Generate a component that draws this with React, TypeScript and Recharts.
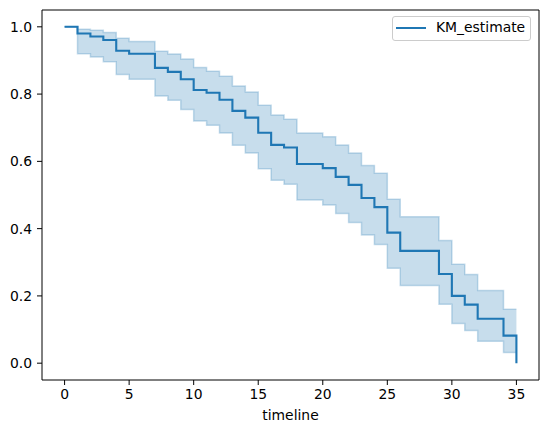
import React from 'react';
import {
  ComposedChart,
  Area,
  Line,
  XAxis,
  YAxis,
  Legend,
  ReferenceArea,
} from 'recharts';

// event times and Kaplan-Meier estimate with its confidence band
const timeline = [0, 1, 2, 3, 4, 5, 7, 8, 9, 10, 11, 12, 13, 14, 15, 16, 17, 18, 20, 21, 22, 23, 24, 25, 26, 29, 30, 31, 32, 34, 35];
const kmEstimate = [1.0, 0.98, 0.971, 0.961, 0.929, 0.92, 0.878, 0.866, 0.844, 0.812, 0.804, 0.783, 0.75, 0.73, 0.685, 0.649, 0.641, 0.592, 0.58, 0.554, 0.53, 0.491, 0.464, 0.388, 0.334, 0.265, 0.2, 0.174, 0.132, 0.082, 0.0];
const upperCI = [1.0, 0.993, 0.99, 0.983, 0.966, 0.956, 0.927, 0.919, 0.904, 0.879, 0.868, 0.853, 0.824, 0.806, 0.767, 0.738, 0.725, 0.684, 0.673, 0.649, 0.625, 0.588, 0.565, 0.487, 0.435, 0.365, 0.294, 0.264, 0.216, 0.16, 0.16];
const lowerCI = [1.0, 0.92, 0.91, 0.896, 0.858, 0.844, 0.794, 0.782, 0.754, 0.72, 0.707, 0.684, 0.648, 0.625, 0.578, 0.544, 0.532, 0.485, 0.47, 0.445, 0.418, 0.381, 0.353, 0.282, 0.231, 0.175, 0.118, 0.097, 0.065, 0.032, 0.032];

const xTicks = [0, 5, 10, 15, 20, 25, 30, 35];
const yTicks = [0, 0.2, 0.4, 0.6, 0.8, 1.0];

const BLUE = '#1f77b4';
const FONT = 'DejaVu Sans';
const FONT_SIZE = 13.9;

const data = timeline.map((t, i) => ({
  t,
  km: kmEstimate[i],
  band: [lowerCI[i], upperCI[i]],
}));

function LegendBox() {
  return (
    <div
      style={{
        width: 137,
        height: 23,
        border: '1px solid #cccccc',
        borderRadius: 3,
        background: 'rgba(255,255,255,0.8)',
        position: 'relative',
        fontFamily: FONT,
        fontSize: FONT_SIZE,
        color: '#000',
      }}
    >
      <div style={{ position: 'absolute', left: 3, top: 10, width: 30, height: 2, background: BLUE }} />
      <div style={{ position: 'absolute', left: 43, top: 2, lineHeight: '17px', whiteSpace: 'nowrap' }}>KM_estimate</div>
    </div>
  );
}

export default function App() {
  const tickStyle = { fill: '#000', fontSize: FONT_SIZE, fontFamily: FONT };
  return (
    <div style={{ position: 'absolute', left: 0, top: 0, background: '#fff' }}>
      <ComposedChart
        width={547}
        height={432}
        data={data}
        margin={{ top: 10, right: 8, bottom: 0, left: 0 }}
      >
        <XAxis
          dataKey="t"
          type="number"
          domain={[-1.75, 36.75]}
          ticks={xTicks}
          allowDataOverflow
          height={52}
          axisLine={false}
          tickLine={{ stroke: '#000' }}
          tickSize={5}
          tickMargin={4}
          tick={tickStyle}
          label={{ value: 'timeline', position: 'insideBottom', offset: 12, fill: '#000', fontSize: FONT_SIZE, fontFamily: FONT }}
        />
        <YAxis
          type="number"
          domain={[-0.05, 1.05]}
          ticks={yTicks}
          allowDataOverflow
          width={42}
          axisLine={false}
          tickLine={{ stroke: '#000' }}
          tickSize={5}
          tickMargin={5}
          tick={tickStyle}
          tickFormatter={(v: number) => v.toFixed(1)}
        />
        <Area
          dataKey="band"
          type="stepAfter"
          fill={BLUE}
          fillOpacity={0.25}
          stroke={BLUE}
          strokeOpacity={0.25}
          strokeWidth={1.5}
          isAnimationActive={false}
          legendType="none"
        />
        <Line
          dataKey="km"
          name="KM_estimate"
          type="stepAfter"
          stroke={BLUE}
          strokeWidth={2.1}
          dot={false}
          isAnimationActive={false}
        />
        <ReferenceArea
          x1={-1.75}
          x2={36.75}
          y1={-0.05}
          y2={1.05}
          fill="none"
          stroke="#000"
          strokeWidth={1}
          strokeOpacity={1}
        />
        <Legend
          layout="horizontal"
          verticalAlign="middle"
          align="center"
          content={() => <LegendBox />}
          wrapperStyle={{ position: 'absolute', top: 16, left: 392, width: 139, height: 25 }}
        />
      </ComposedChart>
    </div>
  );
}
